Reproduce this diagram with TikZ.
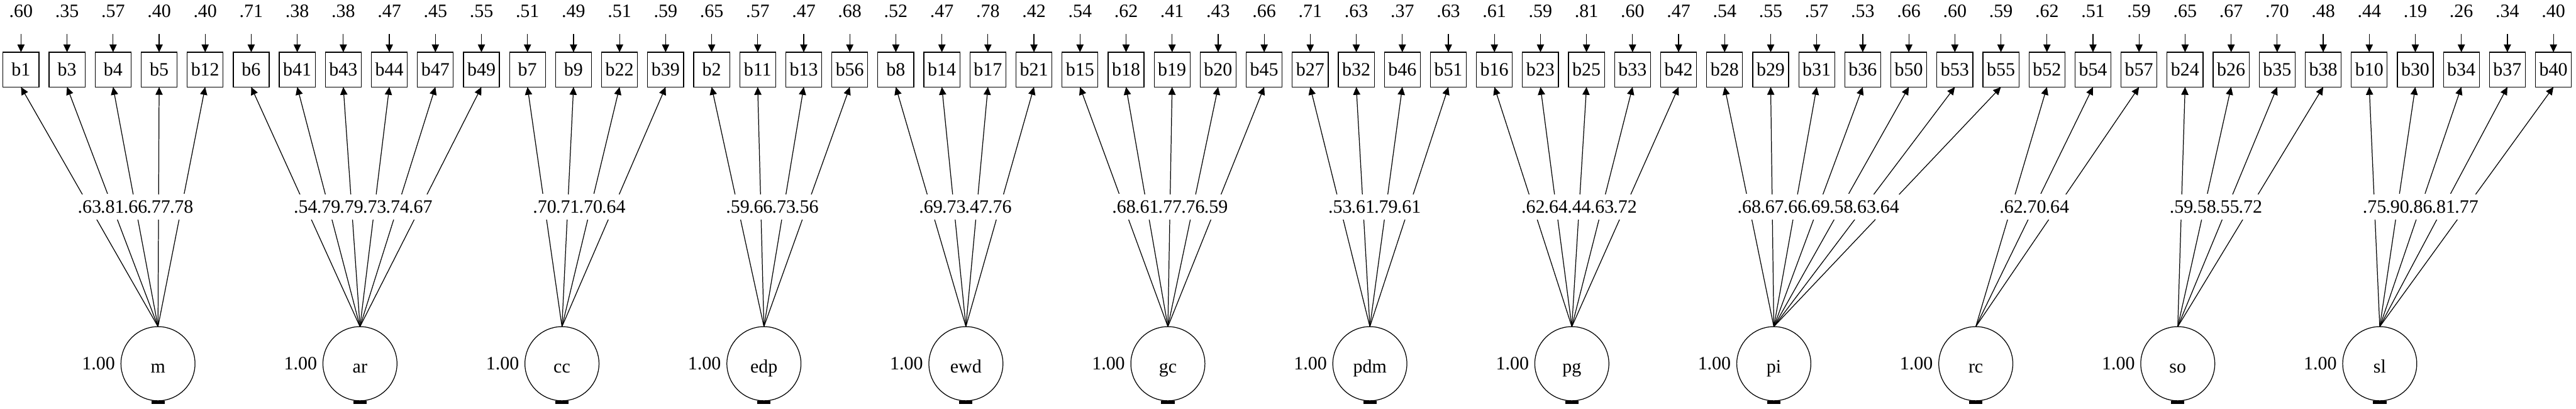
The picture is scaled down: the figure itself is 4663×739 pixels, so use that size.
\documentclass[tikz,border=0pt]{standalone}
\usepackage{fontspec}
\setmainfont{Liberation Serif}
\usetikzlibrary{positioning,arrows.meta}

\begin{document}
\begin{tikzpicture}[
    x=0.01cm, y=-0.01cm,
    node distance=0.183cm,
    font=\fontsize{9.7}{11}\selectfont,
    % --- Node styles ---
    obs/.style={
      rectangle, draw, line width=0.4pt, outer sep=0pt,
      minimum width=0.65cm, minimum height=0.63cm, inner sep=0pt,
    },
    latent/.style={
      circle, draw, line width=0.4pt, outer sep=0pt,
      minimum size=1.34cm, inner sep=0pt,
      text height=0.33cm, text depth=0pt,
    },
    errlab/.style={inner sep=0pt, above=0.615cm of #1},
    varlab/.style={inner sep=0pt, left=0.1cm of #1},
    loadlab/.style={fill=white, inner xsep=0pt, inner ysep=0.115cm, midway},
    % --- Arrow styles ---
    headed/.style={-{Triangle[length=0.14cm, width=0.13cm]}, line width=0.4pt},
    resid/.style={headed, shorten <=0.285cm},
    loading/.style={headed},
  ]
    \useasboundingbox (0,0) rectangle (4663,739);

    % ===================== OBSERVED ITEMS + RESIDUALS =====================
    % m
    \node[obs] (b1) at (38,126) {b1}; \node[errlab=b1] (e1) {.60}; \draw[resid] (e1) -- (b1);
    \node[obs, right=of b1]  (b3)  {b3};  \node[errlab=b3]  (e3)  {.35}; \draw[resid] (e3)  -- (b3);
    \node[obs, right=of b3]  (b4)  {b4};  \node[errlab=b4]  (e4)  {.57}; \draw[resid] (e4)  -- (b4);
    \node[obs, right=of b4]  (b5)  {b5};  \node[errlab=b5]  (e5)  {.40}; \draw[resid] (e5)  -- (b5);
    \node[obs, right=of b5]  (b12) {b12}; \node[errlab=b12] (e12) {.40}; \draw[resid] (e12) -- (b12);
    % ar
    \node[obs, right=of b12] (b6)  {b6};  \node[errlab=b6]  (e6)  {.71}; \draw[resid] (e6)  -- (b6);
    \node[obs, right=of b6]  (b41) {b41}; \node[errlab=b41] (e41) {.38}; \draw[resid] (e41) -- (b41);
    \node[obs, right=of b41] (b43) {b43}; \node[errlab=b43] (e43) {.38}; \draw[resid] (e43) -- (b43);
    \node[obs, right=of b43] (b44) {b44}; \node[errlab=b44] (e44) {.47}; \draw[resid] (e44) -- (b44);
    \node[obs, right=of b44] (b47) {b47}; \node[errlab=b47] (e47) {.45}; \draw[resid] (e47) -- (b47);
    \node[obs, right=of b47] (b49) {b49}; \node[errlab=b49] (e49) {.55}; \draw[resid] (e49) -- (b49);
    % cc
    \node[obs, right=of b49] (b7)  {b7};  \node[errlab=b7]  (e7)  {.51}; \draw[resid] (e7)  -- (b7);
    \node[obs, right=of b7]  (b9)  {b9};  \node[errlab=b9]  (e9)  {.49}; \draw[resid] (e9)  -- (b9);
    \node[obs, right=of b9]  (b22) {b22}; \node[errlab=b22] (e22) {.51}; \draw[resid] (e22) -- (b22);
    \node[obs, right=of b22] (b39) {b39}; \node[errlab=b39] (e39) {.59}; \draw[resid] (e39) -- (b39);
    % edp
    \node[obs, right=of b39] (b2)  {b2};  \node[errlab=b2]  (e2)  {.65}; \draw[resid] (e2)  -- (b2);
    \node[obs, right=of b2]  (b11) {b11}; \node[errlab=b11] (e11) {.57}; \draw[resid] (e11) -- (b11);
    \node[obs, right=of b11] (b13) {b13}; \node[errlab=b13] (e13) {.47}; \draw[resid] (e13) -- (b13);
    \node[obs, right=of b13] (b56) {b56}; \node[errlab=b56] (e56) {.68}; \draw[resid] (e56) -- (b56);
    % ewd
    \node[obs, right=of b56] (b8)  {b8};  \node[errlab=b8]  (e8)  {.52}; \draw[resid] (e8)  -- (b8);
    \node[obs, right=of b8]  (b14) {b14}; \node[errlab=b14] (e14) {.47}; \draw[resid] (e14) -- (b14);
    \node[obs, right=of b14] (b17) {b17}; \node[errlab=b17] (e17) {.78}; \draw[resid] (e17) -- (b17);
    \node[obs, right=of b17] (b21) {b21}; \node[errlab=b21] (e21) {.42}; \draw[resid] (e21) -- (b21);
    % gc
    \node[obs, right=of b21] (b15) {b15}; \node[errlab=b15] (e15) {.54}; \draw[resid] (e15) -- (b15);
    \node[obs, right=of b15] (b18) {b18}; \node[errlab=b18] (e18) {.62}; \draw[resid] (e18) -- (b18);
    \node[obs, right=of b18] (b19) {b19}; \node[errlab=b19] (e19) {.41}; \draw[resid] (e19) -- (b19);
    \node[obs, right=of b19] (b20) {b20}; \node[errlab=b20] (e20) {.43}; \draw[resid] (e20) -- (b20);
    \node[obs, right=of b20] (b45) {b45}; \node[errlab=b45] (e45) {.66}; \draw[resid] (e45) -- (b45);
    % pdm
    \node[obs, right=of b45] (b27) {b27}; \node[errlab=b27] (e27) {.71}; \draw[resid] (e27) -- (b27);
    \node[obs, right=of b27] (b32) {b32}; \node[errlab=b32] (e32) {.63}; \draw[resid] (e32) -- (b32);
    \node[obs, right=of b32] (b46) {b46}; \node[errlab=b46] (e46) {.37}; \draw[resid] (e46) -- (b46);
    \node[obs, right=of b46] (b51) {b51}; \node[errlab=b51] (e51) {.63}; \draw[resid] (e51) -- (b51);
    % pg
    \node[obs, right=of b51] (b16) {b16}; \node[errlab=b16] (e16) {.61}; \draw[resid] (e16) -- (b16);
    \node[obs, right=of b16] (b23) {b23}; \node[errlab=b23] (e23) {.59}; \draw[resid] (e23) -- (b23);
    \node[obs, right=of b23] (b25) {b25}; \node[errlab=b25] (e25) {.81}; \draw[resid] (e25) -- (b25);
    \node[obs, right=of b25] (b33) {b33}; \node[errlab=b33] (e33) {.60}; \draw[resid] (e33) -- (b33);
    \node[obs, right=of b33] (b42) {b42}; \node[errlab=b42] (e42) {.47}; \draw[resid] (e42) -- (b42);
    % pi
    \node[obs, right=of b42] (b28) {b28}; \node[errlab=b28] (e28) {.54}; \draw[resid] (e28) -- (b28);
    \node[obs, right=of b28] (b29) {b29}; \node[errlab=b29] (e29) {.55}; \draw[resid] (e29) -- (b29);
    \node[obs, right=of b29] (b31) {b31}; \node[errlab=b31] (e31) {.57}; \draw[resid] (e31) -- (b31);
    \node[obs, right=of b31] (b36) {b36}; \node[errlab=b36] (e36) {.53}; \draw[resid] (e36) -- (b36);
    \node[obs, right=of b36] (b50) {b50}; \node[errlab=b50] (e50) {.66}; \draw[resid] (e50) -- (b50);
    \node[obs, right=of b50] (b53) {b53}; \node[errlab=b53] (e53) {.60}; \draw[resid] (e53) -- (b53);
    \node[obs, right=of b53] (b55) {b55}; \node[errlab=b55] (e55) {.59}; \draw[resid] (e55) -- (b55);
    % rc
    \node[obs, right=of b55] (b52) {b52}; \node[errlab=b52] (e52) {.62}; \draw[resid] (e52) -- (b52);
    \node[obs, right=of b52] (b54) {b54}; \node[errlab=b54] (e54) {.51}; \draw[resid] (e54) -- (b54);
    \node[obs, right=of b54] (b57) {b57}; \node[errlab=b57] (e57) {.59}; \draw[resid] (e57) -- (b57);
    % so
    \node[obs, right=of b57] (b24) {b24}; \node[errlab=b24] (e24) {.65}; \draw[resid] (e24) -- (b24);
    \node[obs, right=of b24] (b26) {b26}; \node[errlab=b26] (e26) {.67}; \draw[resid] (e26) -- (b26);
    \node[obs, right=of b26] (b35) {b35}; \node[errlab=b35] (e35) {.70}; \draw[resid] (e35) -- (b35);
    \node[obs, right=of b35] (b38) {b38}; \node[errlab=b38] (e38) {.48}; \draw[resid] (e38) -- (b38);
    % sl
    \node[obs, right=of b38] (b10) {b10}; \node[errlab=b10] (e10) {.44}; \draw[resid] (e10) -- (b10);
    \node[obs, right=of b10] (b30) {b30}; \node[errlab=b30] (e30) {.19}; \draw[resid] (e30) -- (b30);
    \node[obs, right=of b30] (b34) {b34}; \node[errlab=b34] (e34) {.26}; \draw[resid] (e34) -- (b34);
    \node[obs, right=of b34] (b37) {b37}; \node[errlab=b37] (e37) {.34}; \draw[resid] (e37) -- (b37);
    \node[obs, right=of b37] (b40) {b40}; \node[errlab=b40] (e40) {.40}; \draw[resid] (e40) -- (b40);

    % ===================== LATENT FACTORS =====================
    \node[latent] (m) at (286,658)        {m};
    \node[latent, right=2.314cm of m]   (ar)  {ar};
    \node[latent, right=2.314cm of ar]  (cc)  {cc};
    \node[latent, right=2.314cm of cc]  (edp) {edp};
    \node[latent, right=2.314cm of edp] (ewd) {ewd};
    \node[latent, right=2.314cm of ewd] (gc)  {gc};
    \node[latent, right=2.314cm of gc]  (pdm) {pdm};
    \node[latent, right=2.314cm of pdm] (pg)  {pg};
    \node[latent, right=2.314cm of pg]  (pi)  {pi};
    \node[latent, right=2.314cm of pi]  (rc)  {rc};
    \node[latent, right=2.314cm of rc]  (so)  {so};
    \node[latent, right=2.314cm of so]  (sl)  {sl};

    % variances
    \node[varlab=m]   (vm)   {1.00};
    \node[varlab=ar]  (var)  {1.00};
    \node[varlab=cc]  (vcc)  {1.00};
    \node[varlab=edp] (vedp) {1.00};
    \node[varlab=ewd] (vewd) {1.00};
    \node[varlab=gc]  (vgc)  {1.00};
    \node[varlab=pdm] (vpdm) {1.00};
    \node[varlab=pg]  (vpg)  {1.00};
    \node[varlab=pi]  (vpi)  {1.00};
    \node[varlab=rc]  (vrc)  {1.00};
    \node[varlab=so]  (vso)  {1.00};
    \node[varlab=sl]  (vsl)  {1.00};

    % cut-off stubs under the circles
    \fill ([xshift=-0.12cm]m.south)   rectangle ([xshift=0.12cm,yshift=-0.06cm]m.south);
    \fill ([xshift=-0.12cm]ar.south)  rectangle ([xshift=0.12cm,yshift=-0.06cm]ar.south);
    \fill ([xshift=-0.12cm]cc.south)  rectangle ([xshift=0.12cm,yshift=-0.06cm]cc.south);
    \fill ([xshift=-0.12cm]edp.south) rectangle ([xshift=0.12cm,yshift=-0.06cm]edp.south);
    \fill ([xshift=-0.12cm]ewd.south) rectangle ([xshift=0.12cm,yshift=-0.06cm]ewd.south);
    \fill ([xshift=-0.12cm]gc.south)  rectangle ([xshift=0.12cm,yshift=-0.06cm]gc.south);
    \fill ([xshift=-0.12cm]pdm.south) rectangle ([xshift=0.12cm,yshift=-0.06cm]pdm.south);
    \fill ([xshift=-0.12cm]pg.south)  rectangle ([xshift=0.12cm,yshift=-0.06cm]pg.south);
    \fill ([xshift=-0.12cm]pi.south)  rectangle ([xshift=0.12cm,yshift=-0.06cm]pi.south);
    \fill ([xshift=-0.12cm]rc.south)  rectangle ([xshift=0.12cm,yshift=-0.06cm]rc.south);
    \fill ([xshift=-0.12cm]so.south)  rectangle ([xshift=0.12cm,yshift=-0.06cm]so.south);
    \fill ([xshift=-0.12cm]sl.south)  rectangle ([xshift=0.12cm,yshift=-0.06cm]sl.south);

    % ===================== LOADINGS =====================
    % m
    \draw[loading] (m.north) -- node[loadlab] {.63} (b1.south);
    \draw[loading] (m.north) -- node[loadlab] {.81} (b3.south);
    \draw[loading] (m.north) -- node[loadlab] {.66} (b4.south);
    \draw[loading] (m.north) -- node[loadlab] {.77} (b5.south);
    \draw[loading] (m.north) -- node[loadlab] {.78} (b12.south);
    % ar
    \draw[loading] (ar.north) -- node[loadlab] {.54} (b6.south);
    \draw[loading] (ar.north) -- node[loadlab] {.79} (b41.south);
    \draw[loading] (ar.north) -- node[loadlab] {.79} (b43.south);
    \draw[loading] (ar.north) -- node[loadlab] {.73} (b44.south);
    \draw[loading] (ar.north) -- node[loadlab] {.74} (b47.south);
    \draw[loading] (ar.north) -- node[loadlab] {.67} (b49.south);
    % cc
    \draw[loading] (cc.north) -- node[loadlab] {.70} (b7.south);
    \draw[loading] (cc.north) -- node[loadlab] {.71} (b9.south);
    \draw[loading] (cc.north) -- node[loadlab] {.70} (b22.south);
    \draw[loading] (cc.north) -- node[loadlab] {.64} (b39.south);
    % edp
    \draw[loading] (edp.north) -- node[loadlab] {.59} (b2.south);
    \draw[loading] (edp.north) -- node[loadlab] {.66} (b11.south);
    \draw[loading] (edp.north) -- node[loadlab] {.73} (b13.south);
    \draw[loading] (edp.north) -- node[loadlab] {.56} (b56.south);
    % ewd
    \draw[loading] (ewd.north) -- node[loadlab] {.69} (b8.south);
    \draw[loading] (ewd.north) -- node[loadlab] {.73} (b14.south);
    \draw[loading] (ewd.north) -- node[loadlab] {.47} (b17.south);
    \draw[loading] (ewd.north) -- node[loadlab] {.76} (b21.south);
    % gc
    \draw[loading] (gc.north) -- node[loadlab] {.68} (b15.south);
    \draw[loading] (gc.north) -- node[loadlab] {.61} (b18.south);
    \draw[loading] (gc.north) -- node[loadlab] {.77} (b19.south);
    \draw[loading] (gc.north) -- node[loadlab] {.76} (b20.south);
    \draw[loading] (gc.north) -- node[loadlab] {.59} (b45.south);
    % pdm
    \draw[loading] (pdm.north) -- node[loadlab] {.53} (b27.south);
    \draw[loading] (pdm.north) -- node[loadlab] {.61} (b32.south);
    \draw[loading] (pdm.north) -- node[loadlab] {.79} (b46.south);
    \draw[loading] (pdm.north) -- node[loadlab] {.61} (b51.south);
    % pg
    \draw[loading] (pg.north) -- node[loadlab] {.62} (b16.south);
    \draw[loading] (pg.north) -- node[loadlab] {.64} (b23.south);
    \draw[loading] (pg.north) -- node[loadlab] {.44} (b25.south);
    \draw[loading] (pg.north) -- node[loadlab] {.63} (b33.south);
    \draw[loading] (pg.north) -- node[loadlab] {.72} (b42.south);
    % pi
    \draw[loading] (pi.north) -- node[loadlab] {.68} (b28.south);
    \draw[loading] (pi.north) -- node[loadlab] {.67} (b29.south);
    \draw[loading] (pi.north) -- node[loadlab] {.66} (b31.south);
    \draw[loading] (pi.north) -- node[loadlab] {.69} (b36.south);
    \draw[loading] (pi.north) -- node[loadlab] {.58} (b50.south);
    \draw[loading] (pi.north) -- node[loadlab] {.63} (b53.south);
    \draw[loading] (pi.north) -- node[loadlab] {.64} (b55.south);
    % rc
    \draw[loading] (rc.north) -- node[loadlab] {.62} (b52.south);
    \draw[loading] (rc.north) -- node[loadlab] {.70} (b54.south);
    \draw[loading] (rc.north) -- node[loadlab] {.64} (b57.south);
    % so
    \draw[loading] (so.north) -- node[loadlab] {.59} (b24.south);
    \draw[loading] (so.north) -- node[loadlab] {.58} (b26.south);
    \draw[loading] (so.north) -- node[loadlab] {.55} (b35.south);
    \draw[loading] (so.north) -- node[loadlab] {.72} (b38.south);
    % sl
    \draw[loading] (sl.north) -- node[loadlab] {.75} (b10.south);
    \draw[loading] (sl.north) -- node[loadlab] {.90} (b30.south);
    \draw[loading] (sl.north) -- node[loadlab] {.86} (b34.south);
    \draw[loading] (sl.north) -- node[loadlab] {.81} (b37.south);
    \draw[loading] (sl.north) -- node[loadlab] {.77} (b40.south);

\end{tikzpicture}
\end{document}
